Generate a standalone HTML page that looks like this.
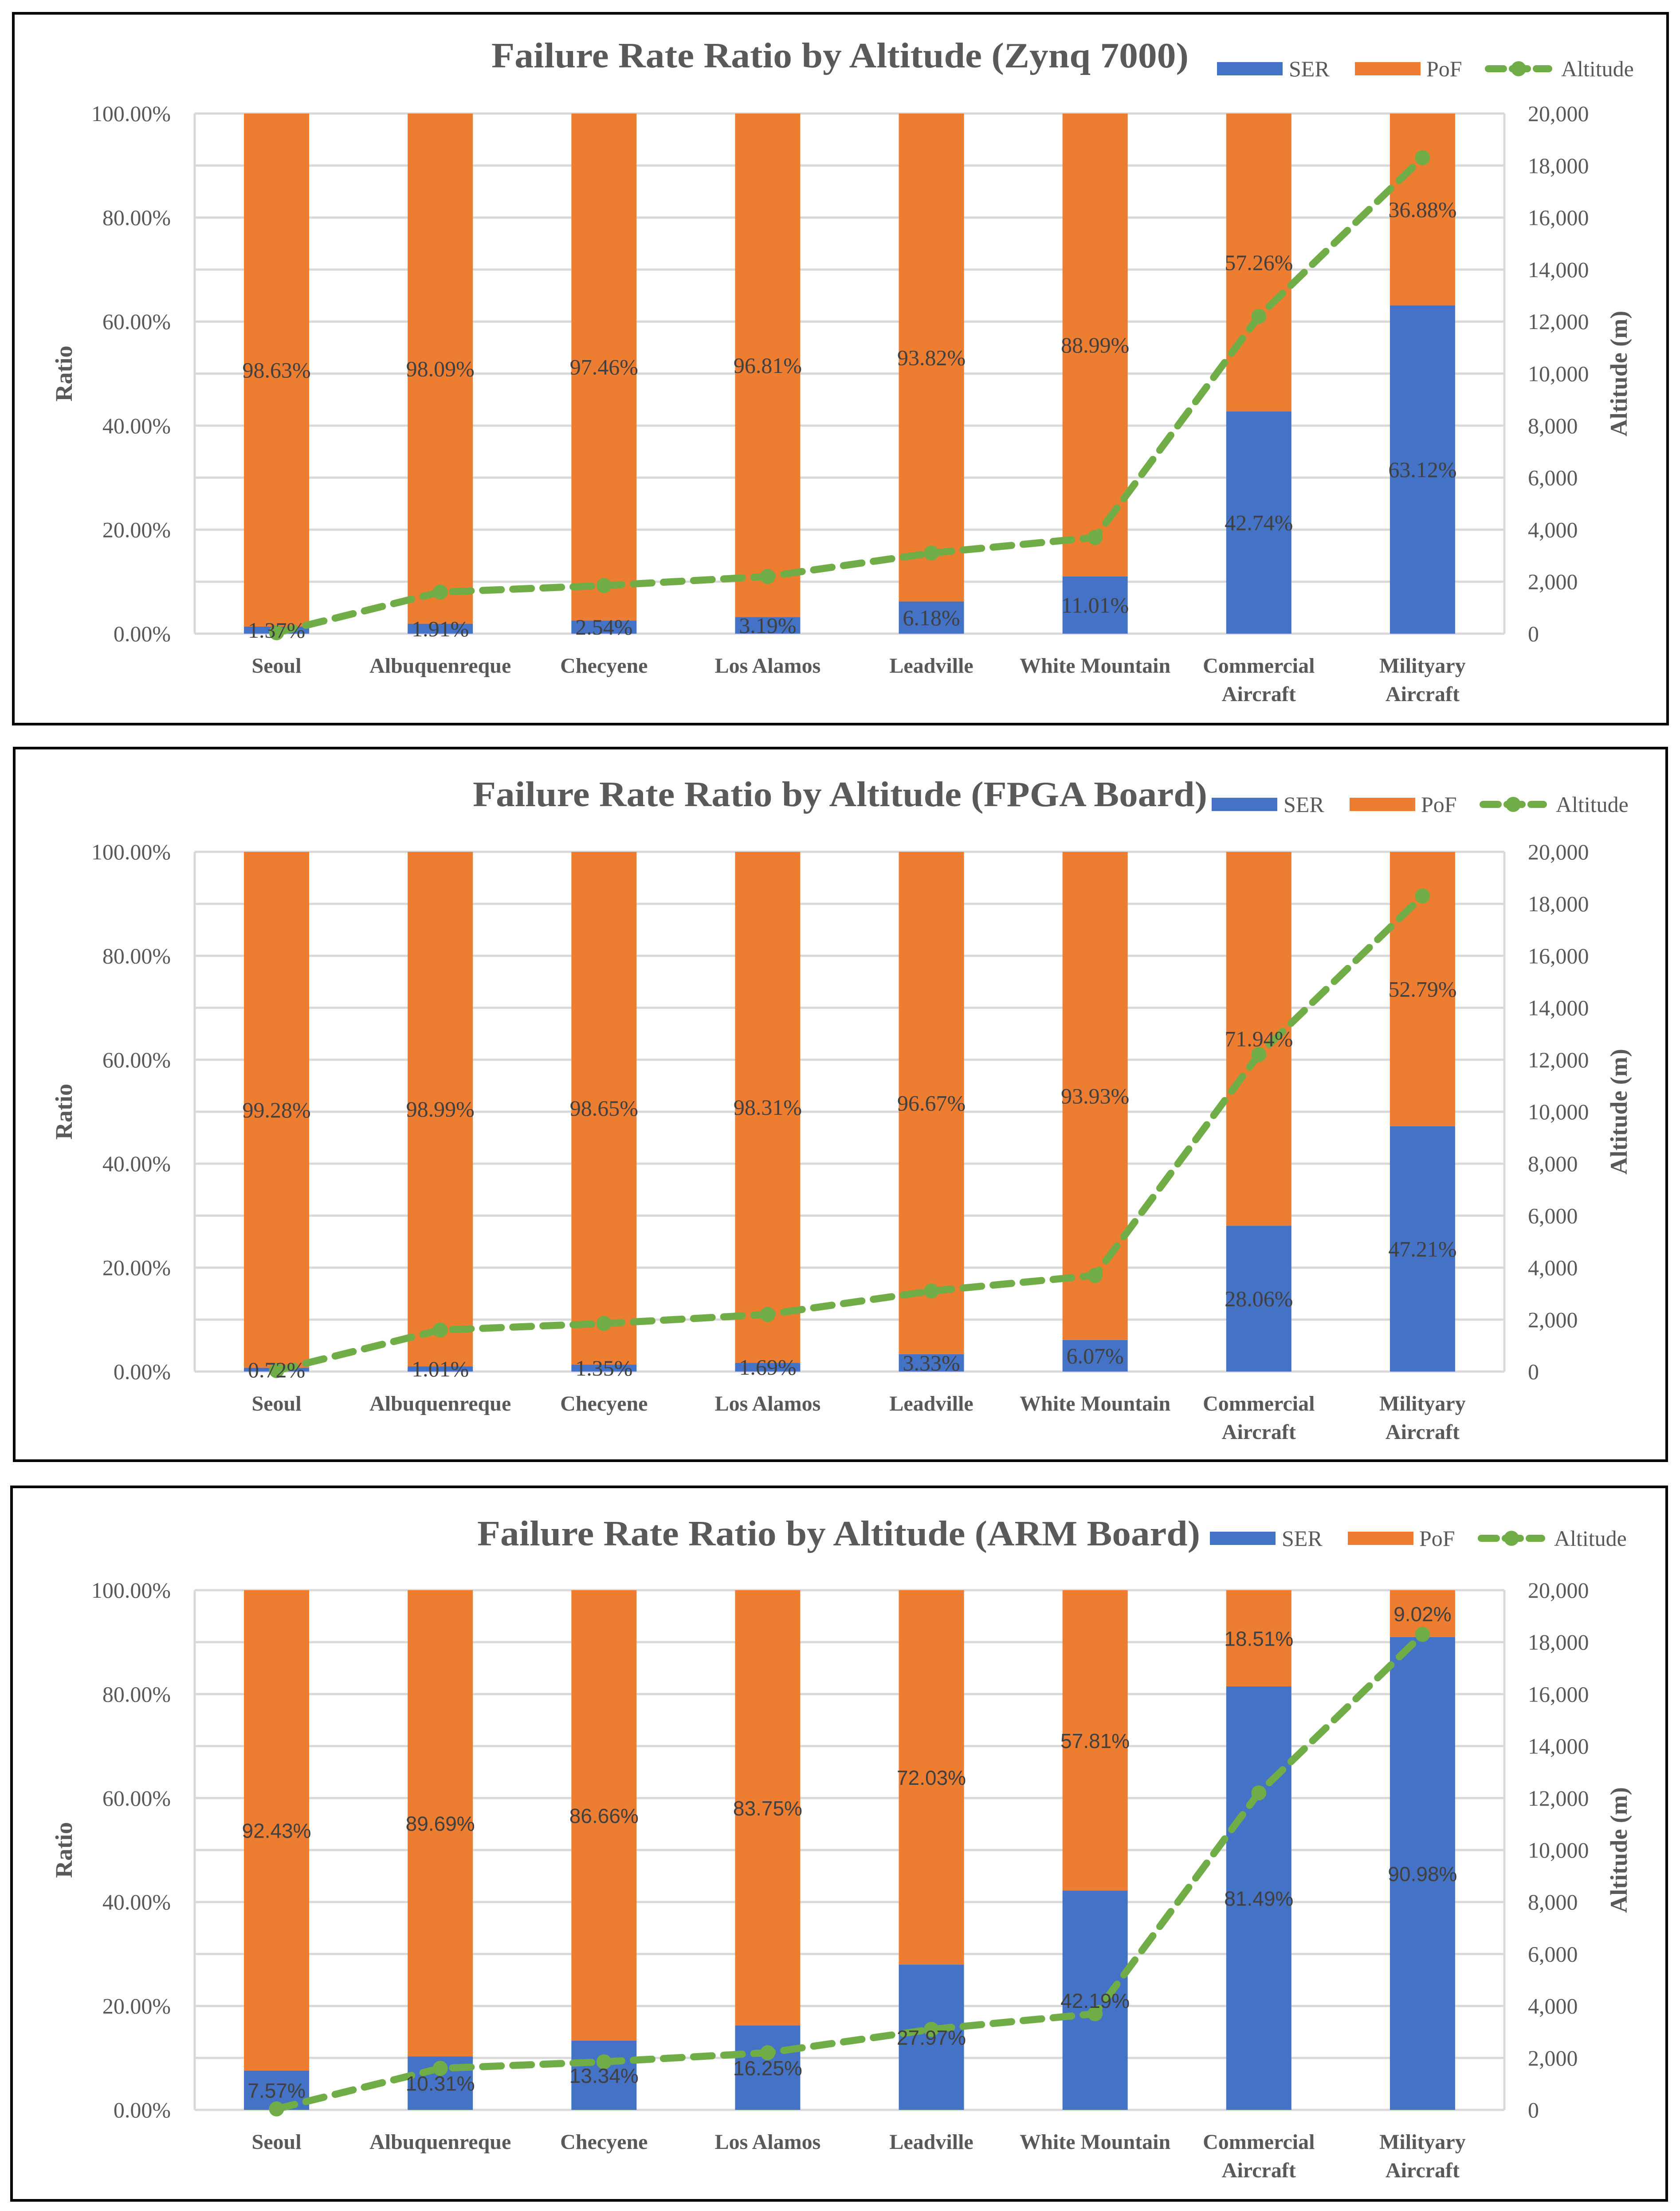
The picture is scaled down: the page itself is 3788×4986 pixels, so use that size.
<!DOCTYPE html>
<html><head><meta charset="utf-8">
<style>
html,body{margin:0;padding:0;background:#fff;}
svg{display:block;}
</style></head>
<body>
<svg id="chart" width="3788" height="4986" viewBox="0 0 3788 4986" xmlns="http://www.w3.org/2000/svg"></svg>
<script>
const categories = [["Seoul"],["Albuquenreque"],["Checyene"],["Los Alamos"],["Leadville"],["White Mountain"],["Commercial","Aircraft"],["Milityary","Aircraft"]];
const altitude = [38, 1600, 1850, 2200, 3100, 3700, 12200, 18300];
const serZynq = [1.37, 1.91, 2.54, 3.19, 6.18, 11.01, 42.74, 63.12];
const pofZynq = [98.63, 98.09, 97.46, 96.81, 93.82, 88.99, 57.26, 36.88];
const serFpga = [0.72, 1.01, 1.35, 1.69, 3.33, 6.07, 28.06, 47.21];
const pofFpga = [99.28, 98.99, 98.65, 98.31, 96.67, 93.93, 71.94, 52.79];
const serArm = [7.57, 10.31, 13.34, 16.25, 27.97, 42.19, 81.49, 90.98];
const pofArm = [92.43, 89.69, 86.66, 83.75, 72.03, 57.81, 18.51, 9.02];
const leftTicks = [0, 20, 40, 60, 80, 100];
const rightTicks = [0, 2000, 4000, 6000, 8000, 10000, 12000, 14000, 16000, 18000, 20000];
const titles = ["Failure Rate Ratio by Altitude (Zynq 7000)", "Failure Rate Ratio by Altitude (FPGA Board)", "Failure Rate Ratio by Altitude (ARM Board)"];

const NS = "http://www.w3.org/2000/svg";
const svg = document.getElementById("chart");
function mk(tag, attrs, parent, text) {
  const e = document.createElementNS(NS, tag);
  for (const k in attrs) e.setAttribute(k, attrs[k]);
  if (text !== undefined) e.textContent = text;
  (parent || svg).appendChild(e);
  return e;
}
const SERIF = '"Liberation Serif", serif';
const SANS = '"Liberation Sans", sans-serif';

const panels = [
  {x0:30, y0:30, x1:3760, y1:1633, top:256, bot:1429, titleY:152, titleX:1108, titleW:1572, legY:155, legDx:0, ser:serZynq, pof:pofZynq, lblFont:SERIF, key:"zynq"},
  {x0:32, y0:1687, x1:3758, y1:3294, top:1921, bot:3093, titleY:1818, titleX:1066, titleW:1656, legY:1814, legDx:-12, ser:serFpga, pof:pofFpga, lblFont:SERIF, key:"fpga"},
  {x0:26, y0:3353, x1:3758, y1:4962, top:3586, bot:4758, titleY:3485, titleX:1076, titleW:1630, legY:3469, legDx:-16, ser:serArm, pof:pofArm, lblFont:SANS, key:"arm"}
];

panels.forEach((p, pi) => {
  const g = mk("g", {});
  
  
  const frame = mk("rect", {x:p.x0, y:p.y0, width:p.x1-p.x0, height:p.y1-p.y0, fill:"#fff", stroke:"#000", "stroke-width":6}, g);
  
  

  const L = 439, R = 3392;
  const band = (R - L) / categories.length;
  const xc = i => L + band * (i + 0.5);
  const yL = v => p.bot - (v / 100) * (p.bot - p.top);
  const yR = v => p.bot - (v / 20000) * (p.bot - p.top);

  for (let v = 0; v <= 100; v += 10) {
    const gl = mk("line", {x1:L, x2:R, y1:yL(v), y2:yL(v), stroke:"#D9D9D9", "stroke-width":5}, g);
    
    
  }
  const vax = mk("line", {x1:L, x2:L, y1:p.top, y2:p.bot, stroke:"#D9D9D9", "stroke-width":5}, g);
  
  
  const rax = mk("line", {x1:R, x2:R, y1:p.top, y2:p.bot, stroke:"#D9D9D9", "stroke-width":5}, g);
  
  

  leftTicks.forEach(v => {
    const t = mk("text", {x:385, y:yL(v)+17, "text-anchor":"end", "font-family":SERIF, "font-size":50, fill:"#595959"}, g, v.toFixed(2) + "%");
    
    
  });
  rightTicks.forEach(v => {
    const t = mk("text", {x:3445, y:yR(v)+17, "text-anchor":"start", "font-family":SERIF, "font-size":50, fill:"#595959"}, g, v.toLocaleString("en-US"));
    
    
  });

  const mid = (p.top + p.bot) / 2;
  const rt = mk("text", {x:0, y:0, transform:`translate(162,${mid}) rotate(-90)`, "text-anchor":"middle", "font-family":SERIF, "font-size":54, "font-weight":"bold", fill:"#595959"}, g, "Ratio");
  
  
  const at = mk("text", {x:0, y:0, transform:`translate(3668,${mid}) rotate(-90)`, "text-anchor":"middle", "font-family":SERIF, "font-size":54, "font-weight":"bold", fill:"#595959"}, g, "Altitude (m)");
  
  

  const bw = 147;
  categories.forEach((c, i) => {
    const s = p.ser[i], f = p.pof[i];
    const sb = mk("rect", {x:xc(i)-bw/2, y:yL(s), width:bw, height:yL(0)-yL(s), fill:"#4472C4"}, g);
    
    
    const pb = mk("rect", {x:xc(i)-bw/2, y:yL(s+f), width:bw, height:yL(s)-yL(s+f), fill:"#ED7D31"}, g);
    
    
  });

  const pts = altitude.map((a, i) => xc(i) + "," + yR(a)).join(" ");
  const ln = mk("polyline", {points:pts, fill:"none", stroke:"#70AD47", "stroke-width":16, "stroke-dasharray":"42,26", "stroke-linecap":"round"}, g);
  
  
  altitude.forEach((a, i) => {
    const m = mk("circle", {cx:xc(i), cy:yR(a), r:17, fill:"#70AD47"}, g);
    
    
  });

  categories.forEach((c, i) => {
    const s = p.ser[i], f = p.pof[i];
    const fs = p.lblFont===SANS?46:50;
    const l1 = mk("text", {x:xc(i), y:yL(s/2)+17, "text-anchor":"middle", "font-family":p.lblFont, "font-size":fs, fill:"#404040"}, g, s.toFixed(2) + "%");
    
    
    const l2 = mk("text", {x:xc(i), y:yL(s+f/2)+17, "text-anchor":"middle", "font-family":p.lblFont, "font-size":fs, fill:"#404040"}, g, f.toFixed(2) + "%");
    
    
  });

  categories.forEach((c, i) => {
    c.forEach((line, li) => {
      const t = mk("text", {x:xc(i), y:p.bot+88+li*64, "text-anchor":"middle", "font-family":SERIF, "font-size":48, "font-weight":"bold", fill:"#595959"}, g, line);
      
      
    });
  });

  const tt = mk("text", {x:p.titleX, y:p.titleY, "font-family":SERIF, "font-size":80, "font-weight":"bold", fill:"#595959", textLength:p.titleW, lengthAdjust:"spacingAndGlyphs"}, g, titles[pi]);
  
  

  const ly = p.legY, dx = p.legDx;
  const lg = mk("g", {transform:`translate(${dx},0)`}, g);
  
  
  const e1 = mk("rect", {x:2744, y:ly-15, width:148, height:30, fill:"#4472C4"}, lg);
  
  
  const t1 = mk("text", {x:2906, y:ly+17, "font-family":SERIF, "font-size":50, fill:"#595959"}, lg, "SER");
  
  
  const e2 = mk("rect", {x:3055, y:ly-15, width:148, height:30, fill:"#ED7D31"}, lg);
  
  
  const t2 = mk("text", {x:3216, y:ly+17, "font-family":SERIF, "font-size":50, fill:"#595959"}, lg, "PoF");
  
  
  const e3 = mk("line", {x1:3356, x2:3492, y1:ly, y2:ly, stroke:"#70AD47", "stroke-width":16, "stroke-dasharray":"34,20", "stroke-linecap":"round"}, lg);
  
  
  const e3m = mk("circle", {cx:3424, cy:ly, r:17, fill:"#70AD47"}, lg);
  
  
  const t3 = mk("text", {x:3520, y:ly+17, "font-family":SERIF, "font-size":50, fill:"#595959"}, lg, "Altitude");
  
  
});
</script>
</body></html>
